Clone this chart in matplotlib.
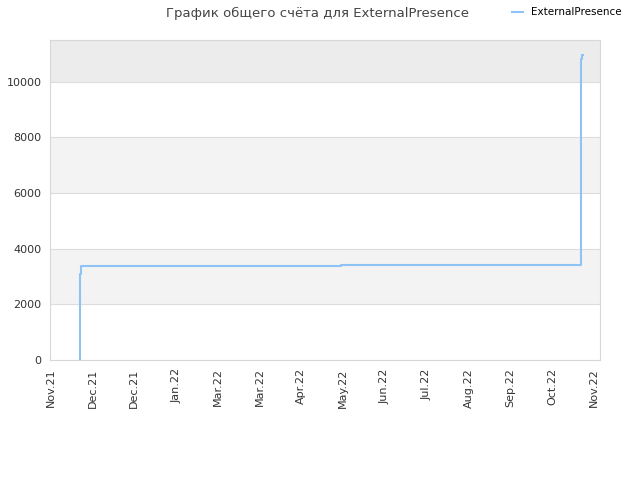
import matplotlib
matplotlib.use("Agg")
import matplotlib.pyplot as plt

# tick labels, evenly spaced along the x axis
tick_labels = ["Nov.21", "Dec.21", "Dec.21", "Jan.22", "Mar.22", "Mar.22", "Apr.22",
               "May.22", "Jun.22", "Jul.22", "Aug.22", "Sep.22", "Oct.22", "Nov.22"]

# x positions in tick units, y = total score
score_x = [0.71, 0.71, 0.73, 0.73, 1.17, 1.17, 6.94, 6.94, 12.70, 12.70, 12.72, 12.72, 12.74]
score_y = [0, 3100, 3100, 3385, 3385, 3390, 3390, 3425, 3425, 10800, 10800, 10950, 10950]

fig = plt.figure(figsize=(6.4, 4.8), dpi=100)
ax = fig.add_axes([50 / 640, 1 - 360 / 480, 550 / 640, 320 / 480])

ymax = 11500
# background bands
ax.axhspan(10000, ymax, color="#ececec", zorder=0, lw=0)
ax.axhspan(6000, 8000, color="#f3f3f3", zorder=0, lw=0)
ax.axhspan(2000, 4000, color="#f3f3f3", zorder=0, lw=0)
for gy in range(2000, 12000, 2000):
    ax.axhline(gy, color="#dddddd", lw=0.8, zorder=1)

ax.plot(score_x, score_y, color="#8ec4f5", lw=1.5, zorder=3, label="ExternalPresence")

ax.set_xlim(-0.02, 13.15)
ax.set_ylim(0, ymax)
ax.set_xticks(range(len(tick_labels)))
ax.set_xticklabels(tick_labels, rotation=90, fontsize=8, color="#333333")
ax.set_yticks([0, 2000, 4000, 6000, 8000, 10000])
ax.set_yticklabels(["0", "2000", "4000", "6000", "8000", "10000"], fontsize=8, color="#333333")
ax.tick_params(length=0, pad=6)
for s in ax.spines.values():
    s.set_color("#d8d8d8")

fig.text(318 / 640, 1 - 13 / 480, "График общего счёта для ExternalPresence",
         ha="center", va="center", fontsize=9.5, color="#444444")
fig.legend(loc="upper left", bbox_to_anchor=(505 / 640, 1.0), frameon=False, fontsize=7.5,
           handlelength=1.0, handletextpad=0.8, borderaxespad=0.3)

fig.savefig("out.png", dpi=100, facecolor="white")
